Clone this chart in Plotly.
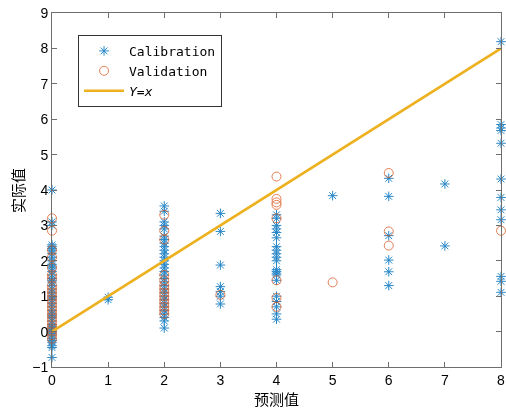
import plotly.graph_objects as go

# Calibration data (predicted, actual)
cal_y0 = [4.0, 3.1, 3.0, 2.45, 2.4, 2.35, 2.3, 2.2, 2.1, 2.0, 1.9, 1.85, 1.8, 1.7, 1.6, 1.5, 1.45,
          1.4, 1.3, 1.2, 1.1, 1.0, 0.95, 0.9, 0.8, 0.7, 0.6, 0.5, 0.45, 0.4, 0.3, 0.2, 0.15, 0.1,
          0.05, 0.0, -0.05, -0.1, -0.2, -0.25, -0.3, -0.4, -0.45, -0.73]
cal_y1 = [0.9, 0.97]
cal_y2 = [3.55, 3.4, 3.1, 3.0, 2.9, 2.7, 2.6, 2.5, 2.4, 2.3, 2.2, 2.1, 2.0, 1.9, 1.8, 1.7, 1.6,
          1.5, 1.4, 1.3, 1.2, 1.1, 1.0, 0.9, 0.8, 0.7, 0.6, 0.5, 0.4, 0.3, 0.1]
cal_y3 = [3.34, 2.83, 1.88, 1.27, 1.13, 1.0, 0.78]
cal_y4 = [3.3, 3.2, 3.0, 2.9, 2.8, 2.65, 2.4, 2.3, 2.2, 2.1, 2.0, 1.75, 1.7, 1.65, 1.6, 1.45,
          1.0, 0.85, 0.7, 0.5, 0.35]
cal_y5 = [3.84]
cal_y6 = [4.33, 3.82, 2.71, 2.02, 1.69, 1.3]
cal_y7 = [4.17, 2.42]
cal_y8 = [8.19, 5.85, 5.75, 5.68, 5.32, 4.31, 3.79, 3.44, 3.16, 1.56, 1.42, 1.11]

# Validation data
val_y0 = [3.2, 2.85, 2.3, 2.1, 1.8, 1.6, 1.5, 1.3, 1.2, 1.1, 1.0, 0.9, 0.8, 0.7, 0.6, 0.5,
          0.4, 0.3, 0.2, 0.1, 0.0, -0.1, -0.2]
val_y2 = [3.3, 2.85, 2.6, 1.6, 1.45, 1.3, 1.2, 1.1, 1.0, 0.9, 0.8, 0.7, 0.6, 0.5]
val_y3 = [1.04]
val_y4 = [4.38, 3.75, 3.65, 3.58, 3.2, 1.45, 0.95, 0.7]
val_y5 = [1.39]
val_y6 = [4.48, 2.83, 2.43]
val_y8 = [2.85]

x_ticks = [0, 1, 2, 3, 4, 5, 6, 7, 8]
y_ticks = [-1, 0, 1, 2, 3, 4, 5, 6, 7, 8, 9]

cal_groups = {0: cal_y0, 1: cal_y1, 2: cal_y2, 3: cal_y3, 4: cal_y4, 5: cal_y5, 6: cal_y6, 7: cal_y7, 8: cal_y8}
val_groups = {0: val_y0, 2: val_y2, 3: val_y3, 4: val_y4, 5: val_y5, 6: val_y6, 8: val_y8}

cal_x, cal_y = [], []
for k, v in cal_groups.items():
    cal_x += [k]*len(v); cal_y += v
val_x, val_y = [], []
for k, v in val_groups.items():
    val_x += [k]*len(v); val_y += v

line_x = [0, 8]
line_y = [0, 8]

fig = go.Figure()
fig.add_trace(go.Scatter(x=cal_x, y=cal_y, mode="markers", name="Calibration",
                         marker=dict(symbol="asterisk-open", size=8, color="#0072BD",
                                     line=dict(width=1, color="#0072BD")),
                         opacity=0.85, cliponaxis=False))
fig.add_trace(go.Scatter(x=val_x, y=val_y, mode="markers", name="Validation",
                         marker=dict(symbol="circle-open", size=9, color="#D95319",
                                     line=dict(width=1, color="#D95319")),
                         opacity=0.75, cliponaxis=False))
fig.add_trace(go.Scatter(x=line_x, y=line_y, mode="lines", name="<i>Y=x</i>",
                         line=dict(color="#EDB120", width=2.5)))

axis_common = dict(showgrid=False, zeroline=False, showline=True, linecolor="#6e6e6e",
                   linewidth=1, mirror="ticks", ticks="inside", ticklen=5, automargin=False,
                   tickcolor="#6e6e6e", tickfont=dict(family="Liberation Sans", size=14, color="black"))

fig.update_layout(
    width=506, height=410,
    margin=dict(l=52, r=5, t=13, b=43),
    paper_bgcolor="white", plot_bgcolor="white",
    xaxis=dict(range=[0, 8], tickvals=x_ticks, **axis_common),
    yaxis=dict(range=[-1, 9], tickvals=y_ticks, **axis_common),
    legend=dict(x=0.058, y=0.938, xanchor="left", yanchor="top",
                bgcolor="white", bordercolor="#333333", borderwidth=1,
                font=dict(family="DejaVu Sans Mono", size=13, color="black"),
                tracegroupgap=0, itemwidth=40),
    showlegend=True,
    annotations=[
        dict(text="预测值", xref="paper", yref="paper", x=0.5, y=-0.09,
             xanchor="center", yanchor="middle", showarrow=False,
             font=dict(family="Noto Sans CJK SC", size=15, color="black")),
        dict(text="实际值", xref="paper", yref="paper", x=-0.078, y=0.5,
             xanchor="center", yanchor="middle", showarrow=False, textangle=-90,
             font=dict(family="Noto Sans CJK SC", size=15, color="black")),
    ],
)

fig.write_html("out.html")
